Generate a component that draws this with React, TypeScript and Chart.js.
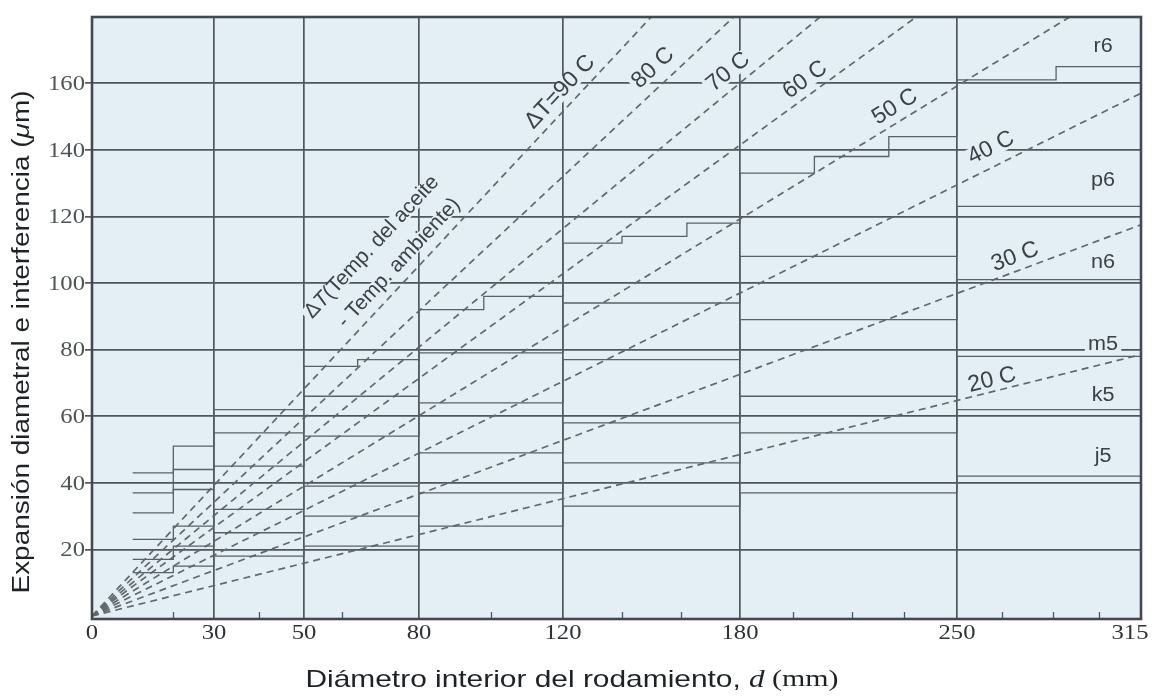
import React, { useEffect, useRef } from 'react';
import { Chart, LinearScale, registerables } from 'chart.js';

// ---------------- data ----------------
// x axis: bearing bore diameter d (mm), y axis: expansion / interference (µm)
const X_TICKS = [0, 30, 50, 80, 120, 180, 250, 315];
const X_MINOR_TICKS = [20, 40, 60, 100, 140, 160, 197, 216, 233, 266, 284, 300];
const Y_TICKS = [20, 40, 60, 80, 100, 120, 140, 160];

// diameter ranges where the fit lines step
const fitBounds = [10, 20, 30, 50, 80, 120, 180, 250, 315];
const j5 = [13, 15, 18, 21, 27, 33, 37, 42];
const k5 = [17, 21, 25, 30, 37, 46, 55, 62];
const m5 = [23, 27, 32, 39, 49, 58, 66, 78];
const n6 = [31, 38, 45, 54, 64, 77, 89, 101];
const p6 = [37, 44, 55, 66, 79, 94, 108, 123];
const r6Bounds = [10, 20, 30, 50, 64, 80, 98, 120, 140, 162, 180, 204, 228, 250, 285, 315];
const r6 = [43, 51, 62, 75, 77, 92, 96, 112, 114, 118, 133, 138, 144, 161, 165];

const fitNames = ['r6', 'p6', 'n6', 'm5', 'k5', 'j5'];
const fitNameD = [301.6, 301.6, 301.6, 301.6, 301.6, 301.6];
const fitNameUm = [170.9, 130.7, 106.3, 81.4, 66.1, 47.8];

// temperature difference lines (start at origin)
const deltaT = [90, 80, 70, 60, 50, 40, 30, 20];
const deltaTEndD = [150, 178, 206, 237, 290, 315, 315, 315];
const deltaTEndUm = [180, 180, 180, 180, 180, 157, 117.5, 78.5];
const deltaTLabels = ['ΔT=90 C', '80 C', '70 C', '60 C', '50 C', '40 C', '30 C', '20 C'];
const deltaTLabelD = [119.2, 150.5, 176, 201, 230, 262, 270.5, 262.4];
const deltaTLabelUm = [157.4, 164.6, 163.4, 161, 152.9, 140.6, 107.9, 70.9];

const captionLines = ['(Temp. del aceite', '- Temp. ambiente)'];
const captionD = [67.7, 74.8];
const captionUm = [110.8, 106.0];

const xTitle = 'Diámetro interior del rodamiento, ';
const yTitle = 'Expansión diametral e interferencia (';

// ---------------- styles ----------------
const PLOT_BG = '#e4eef5';
const GRID = '#4f575b';
const STEP = '#596165';
const DASH = '#61696d';
const TEXT = '#3b4144';
const SANS = 'Liberation Sans';
const SERIF = 'Liberation Serif';

// relative width of each axis interval between X_TICKS (non uniform axis)
const X_INTERVAL_SHARE = [122, 90, 115, 144, 177, 217, 184];

class BrokenLinearScale extends LinearScale {
  static id = 'brokenLinear';
  static defaults = LinearScale.defaults;

  _decimalOf(value: number) {
    const total = X_INTERVAL_SHARE.reduce((a, b) => a + b, 0);
    let acc = 0;
    for (let i = 0; i < X_INTERVAL_SHARE.length; i++) {
      const a = X_TICKS[i], b = X_TICKS[i + 1];
      if (value <= b || i === X_INTERVAL_SHARE.length - 1) {
        return (acc + ((value - a) / (b - a)) * X_INTERVAL_SHARE[i]) / total;
      }
      acc += X_INTERVAL_SHARE[i];
    }
    return 1;
  }
  getPixelForValue(value: any) {
    if (value === null || value === undefined || isNaN(value)) return NaN;
    return this.getPixelForDecimal(this._decimalOf(+value));
  }
  getValueForPixel(pixel: number) {
    const dec = this.getDecimalForPixel(pixel);
    const total = X_INTERVAL_SHARE.reduce((a, b) => a + b, 0);
    let acc = 0;
    for (let i = 0; i < X_INTERVAL_SHARE.length; i++) {
      const s = X_INTERVAL_SHARE[i] / total;
      if (dec <= acc + s || i === X_INTERVAL_SHARE.length - 1) {
        return X_TICKS[i] + ((dec - acc) / s) * (X_TICKS[i + 1] - X_TICKS[i]);
      }
      acc += s;
    }
    return X_TICKS[X_TICKS.length - 1];
  }
}

Chart.register(...registerables, BrokenLinearScale);

type Part = [string, string];

function drawParts(
  ctx: CanvasRenderingContext2D,
  parts: Part[],
  x: number,
  y: number,
  o: { align?: string; rot?: number; sx?: number; width?: number; color?: string; bg?: string; bgH?: number }
) {
  ctx.save();
  let total = 0;
  const widths = parts.map(([t, f]) => {
    ctx.font = f;
    const w = ctx.measureText(t).width;
    total += w;
    return w;
  });
  const sx = o.width ? o.width / total : o.sx ?? 1;
  ctx.translate(x, y);
  if (o.rot) ctx.rotate(o.rot);
  ctx.scale(sx, 1);
  let start = o.align === 'right' ? -total : o.align === 'left' ? 0 : -total / 2;
  if (o.bg) {
    const h = o.bgH ?? 18;
    ctx.fillStyle = o.bg;
    ctx.fillRect(start - 3, -h / 2, total + 6, h);
  }
  ctx.fillStyle = o.color ?? TEXT;
  ctx.textBaseline = 'middle';
  ctx.textAlign = 'left';
  parts.forEach(([t, f], i) => {
    ctx.font = f;
    ctx.fillText(t, start, 0);
    start += widths[i];
  });
  ctx.restore();
}

const paperPlugin = {
  id: 'paper',
  beforeDraw(chart: any) {
    const { ctx, chartArea: a } = chart;
    ctx.save();
    ctx.fillStyle = '#ffffff';
    ctx.fillRect(0, 0, chart.width, chart.height);
    ctx.fillStyle = PLOT_BG;
    ctx.fillRect(a.left, a.top, a.right - a.left, a.bottom - a.top);
    ctx.restore();
  },
  afterDatasetsDraw(chart: any) {
    const { ctx, chartArea: a } = chart;
    const xs = chart.scales.x;
    const ys = chart.scales.y;
    const px = (v: number) => xs.getPixelForValue(v);
    const py = (v: number) => ys.getPixelForValue(v);

    // delta T labels
    deltaTLabels.forEach((lab, i) => {
      const ang = Math.atan2(py(deltaTEndUm[i]) - py(0), px(deltaTEndD[i]) - px(0));
      drawParts(ctx, [[lab, `23px "${SANS}"`]], px(deltaTLabelD[i]), py(deltaTLabelUm[i]), {
        rot: ang,
        bg: PLOT_BG,
        bgH: 18,
        sx: 1.0,
      });
    });
    // caption
    const capAng = Math.atan2(py(deltaTEndUm[0]) - py(0), px(deltaTEndD[0]) - px(0));
    drawParts(
      ctx,
      [
        ['Δ', `21px "${SANS}"`],
        ['T', `italic 21px "${SANS}"`],
        [captionLines[0], `21px "${SANS}"`],
      ],
      px(captionD[0]),
      py(captionUm[0]),
      { rot: capAng, bg: PLOT_BG, bgH: 16 }
    );
    drawParts(ctx, [[captionLines[1], `21px "${SANS}"`]], px(captionD[1]), py(captionUm[1]), {
      rot: capAng,
      bg: PLOT_BG,
      bgH: 14,
    });
    // fit names
    fitNames.forEach((n, i) => {
      drawParts(ctx, [[n, `20px "${SANS}"`]], px(fitNameD[i]), py(fitNameUm[i]), {
        sx: 1.08,
        bg: PLOT_BG,
        bgH: 15,
      });
    });

    // minor ticks
    ctx.save();
    ctx.strokeStyle = GRID;
    ctx.lineWidth = 1.3;
    X_MINOR_TICKS.forEach((v) => {
      const x = Math.round(px(v)) + 0.5;
      ctx.beginPath();
      ctx.moveTo(x, a.bottom);
      ctx.lineTo(x, a.bottom - 7);
      ctx.stroke();
    });
    // frame
    ctx.strokeStyle = '#434a4e';
    ctx.lineWidth = 2.6;
    ctx.strokeRect(a.left, a.top, a.right - a.left, a.bottom - a.top);
    ctx.restore();

    // tick labels
    Y_TICKS.forEach((v) => {
      drawParts(ctx, [[String(v), `22px "${SERIF}"`]], a.left - 7, py(v) + 1, {
        align: 'right',
        sx: 1.12,
        color: '#4e5356',
      });
    });
    X_TICKS.forEach((v, i) => {
      let x = px(v);
      if (i === X_TICKS.length - 1) x -= 11;
      drawParts(ctx, [[String(v), `22px "${SERIF}"`]], x, a.bottom + 14, {
        sx: 1.12,
        color: '#2e3234',
      });
    });

    // axis titles
    drawParts(
      ctx,
      [
        [xTitle, `24px "${SANS}"`],
        ['d', `italic 25px "${SERIF}"`],
        [' (mm)', `24px "${SERIF}"`],
      ],
      572,
      680,
      { width: 533, color: '#1e2224' }
    );
    drawParts(
      ctx,
      [
        [yTitle, `23px "${SANS}"`],
        ['μ', `italic 23px "${SANS}"`],
        ['m)', `23px "${SANS}"`],
      ],
      23,
      342,
      { width: 503, rot: -Math.PI / 2, color: '#1e2224' }
    );
  },
};

function stepPoints(bounds: number[], vals: number[]) {
  const pts = vals.map((v, i) => ({ x: bounds[i], y: v }));
  pts.push({ x: bounds[bounds.length - 1], y: vals[vals.length - 1] });
  return pts;
}

export default function App() {
  const ref = useRef<HTMLCanvasElement>(null);
  useEffect(() => {
    document.body.style.margin = '0';
    const fits = [
      stepPoints(r6Bounds, r6),
      stepPoints(fitBounds, p6),
      stepPoints(fitBounds, n6),
      stepPoints(fitBounds, m5),
      stepPoints(fitBounds, k5),
      stepPoints(fitBounds, j5),
    ];
    const stepSets = fits.map((pts, i) => ({
      label: fitNames[i],
      data: pts,
      stepped: 'before' as const,
      borderColor: STEP,
      borderWidth: 1.3,
      pointRadius: 0,
      fill: false,
    }));
    const dashSets = deltaT.map((t, i) => ({
      label: `${t} C`,
      data: [
        { x: 0, y: 0 },
        { x: deltaTEndD[i], y: deltaTEndUm[i] },
      ],
      borderColor: DASH,
      borderWidth: 1.7,
      borderDash: [7, 5],
      pointRadius: 0,
      fill: false,
    }));
    const chart = new Chart(ref.current!, {
      type: 'line',
      data: { datasets: [...stepSets, ...dashSets] as any },
      options: {
        animation: false,
        responsive: false,
        events: [],
        layout: { padding: { left: 0, right: 22, top: 17, bottom: 0 } },
        plugins: { legend: { display: false }, tooltip: { enabled: false } },
        elements: { point: { radius: 0 }, line: { tension: 0 } },
        scales: {
          x: {
            type: 'brokenLinear' as any,
            min: 0,
            max: 315,
            afterBuildTicks: (s: any) => {
              s.ticks = X_TICKS.map((v) => ({ value: v }));
            },
            afterFit: (s: any) => {
              s.height = 79;
            },
            ticks: { display: false },
            grid: { color: GRID, lineWidth: 1.7, drawTicks: false },
            border: { display: false },
          },
          y: {
            type: 'linear',
            min: -0.9,
            max: 179.9,
            afterBuildTicks: (s: any) => {
              s.ticks = Y_TICKS.map((v) => ({ value: v }));
            },
            afterFit: (s: any) => {
              s.width = 92;
            },
            ticks: { display: false },
            grid: { color: GRID, lineWidth: 1.7, drawTicks: true, tickLength: 7 },
            border: { display: false },
          },
        },
      } as any,
      plugins: [paperPlugin],
    });
    return () => chart.destroy();
  }, []);
  return (
    <div style={{ position: 'relative', width: 1163, height: 698, background: '#fff' }}>
      <canvas ref={ref} width={1163} height={698} style={{ display: 'block' }} />
    </div>
  );
}
